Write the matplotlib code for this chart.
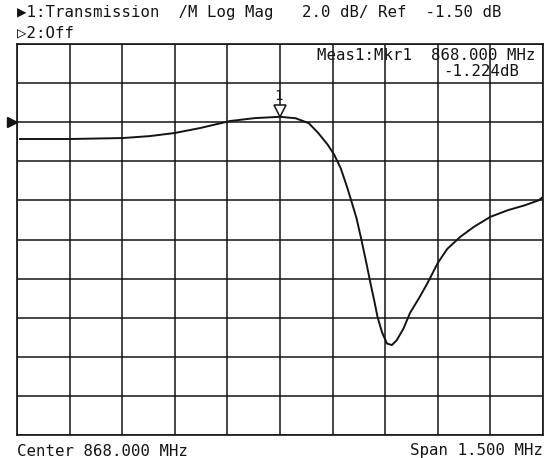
import numpy as np
import matplotlib
matplotlib.use("Agg")
import matplotlib.pyplot as plt
import matplotlib.transforms as mtransforms

# -----------------------------
# Data
# -----------------------------
center_mhz = 868.000
span_mhz = 1.500
scale_db = 2.0
ref_db = -1.50

freq_mhz = [867.2586, 867.4011, 867.5523, 867.6293, 867.7006, 867.7719,
            867.8574, 867.9287, 868.000, 868.045, 868.082, 868.109,
            868.136, 868.155, 868.173, 868.191, 868.205, 868.218,
            868.232, 868.248, 868.257, 868.269, 868.278, 868.291,
            868.305, 868.319, 868.333, 868.352, 868.371, 868.398,
            868.420, 868.450, 868.477, 868.515, 868.554, 868.600,
            868.650, 868.698, 868.737, 868.750]
trans_db = [-2.36, -2.36, -2.31, -2.21, -2.05, -1.80,
            -1.44, -1.29, -1.224, -1.30, -1.55, -2.05,
            -2.65, -3.18, -3.85, -4.80, -5.62, -6.40,
            -7.50, -8.85, -9.65, -10.65, -11.45, -12.25,
            -12.82, -12.90, -12.65, -12.06, -11.25, -10.45,
            -9.75, -8.70, -7.98, -7.35, -6.84, -6.34,
            -6.00, -5.75, -5.50, -5.33]

mkr_freq = 868.000
mkr_db = -1.224

header1 = "\u25b61:Transmission  /M Log Mag   2.0 dB/ Ref  -1.50 dB"
header2 = "\u25b72:Off"
mkr_line1 = "Meas1:Mkr1  868.000 MHz"
mkr_line2 = "-1.224dB"
footer_left = "Center 868.000 MHz"
footer_right = "Span 1.500 MHz"

# -----------------------------
# Figure / graticule
# -----------------------------
W, H = 547, 458
fig = plt.figure(figsize=(W / 100, H / 100), dpi=100)
ax = fig.add_axes([17 / W, 1 - 435 / H, 526 / W, 391 / H])

ink = "#141414"
fam = ["DejaVu Sans Mono", "DejaVu Sans"]

top_db = ref_db + 2 * scale_db
ax.set_xlim(center_mhz - span_mhz / 2, center_mhz + span_mhz / 2)
ax.set_ylim(top_db - 10 * scale_db, top_db)
ax.set_xticks(np.linspace(center_mhz - span_mhz / 2, center_mhz + span_mhz / 2, 11))
ax.set_yticks(np.linspace(top_db - 10 * scale_db, top_db, 11))
ax.tick_params(length=0, labelbottom=False, labelleft=False)
ax.grid(True, color=ink, linewidth=1.1)
for s in ax.spines.values():
    s.set_color(ink)
    s.set_linewidth(1.2)

# trace
ax.plot(freq_mhz, trans_db, color=ink, linewidth=1.4, zorder=3,
        solid_joinstyle="round")

# marker 1 (open triangle pointing down onto trace)
off = mtransforms.ScaledTranslation(0, 4.5 / 72, fig.dpi_scale_trans)
ax.plot([mkr_freq], [mkr_db], marker="v", ms=9, mfc="white", mec=ink,
        mew=1.1, transform=ax.transData + off, zorder=4, clip_on=False)
ax.annotate("1", xy=(mkr_freq, mkr_db), xytext=(-1, 15),
            textcoords="offset points", ha="center", va="center",
            fontsize=10, family=fam, color=ink)

# reference position arrow at left
blend = mtransforms.blended_transform_factory(ax.transAxes, ax.transData)
ax.plot([-0.0095], [ref_db], marker=">", ms=7, color=ink,
        transform=blend, clip_on=False)

# -----------------------------
# Annotation texts
# -----------------------------
def px_text(x, y, s, **kw):
    fig.text(x / W, 1 - y / H, s, va="center", fontsize=11.3, family=fam,
             color=ink, **kw)

px_text(17, 13, header1)
px_text(17, 33, header2)
px_text(317, 55, mkr_line1)
px_text(443, 72, mkr_line2)
px_text(17, 451, footer_left)
px_text(543, 451, footer_right, ha="right")

fig.savefig("out.png", dpi=100, facecolor="white")
